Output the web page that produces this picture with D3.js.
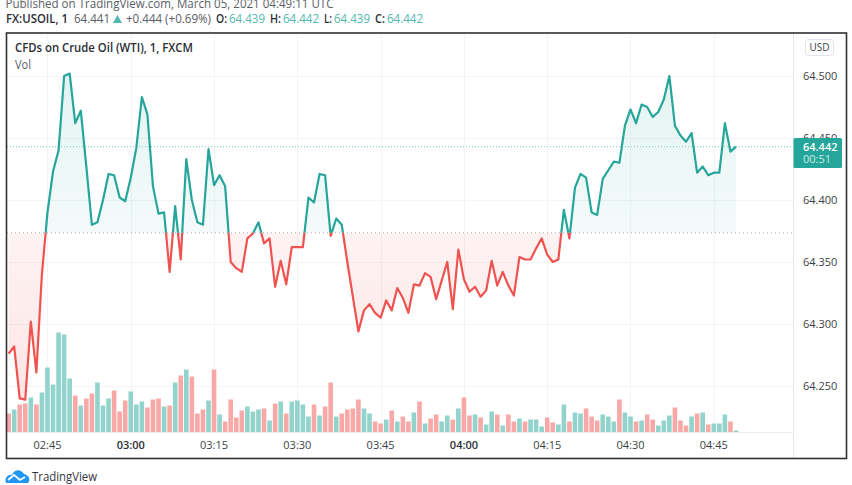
<!DOCTYPE html>
<html><head><meta charset="utf-8">
<script src="https://cdn.jsdelivr.net/npm/d3@7"></script>
<style>html,body{margin:0;padding:0;background:#fff}svg{display:block}text{font-family:"Open Sans",sans-serif}</style>
</head><body><svg id="c" width="852" height="485"></svg>
<script>
// minutes from 02:38 to 04:49 UTC
const prices = [64.276,64.282,64.240,64.239,64.302,64.261,64.340,
64.390,64.423,64.440,64.500,64.502,64.462,64.472,64.427,64.380,64.382,64.400,64.421,64.420,64.402,64.399,
64.418,64.442,64.483,64.469,64.411,64.389,64.390,64.342,64.395,64.352,64.433,64.400,64.382,64.380,64.441,
64.412,64.420,64.411,64.350,64.345,64.342,64.369,64.373,64.382,64.365,64.369,64.330,64.351,64.332,64.362,
64.362,64.362,64.402,64.398,64.421,64.420,64.371,64.385,64.380,64.350,64.322,64.294,64.311,64.316,64.309,
64.305,64.319,64.311,64.329,64.321,64.309,64.332,64.331,64.341,64.338,64.320,64.335,64.350,64.312,64.360,
64.336,64.326,64.330,64.322,64.327,64.351,64.331,64.342,64.331,64.323,64.354,64.352,64.352,64.361,64.369,
64.356,64.350,64.352,64.392,64.369,64.410,64.421,64.418,64.390,64.388,64.417,64.424,64.431,64.430,64.460,
64.473,64.462,64.477,64.475,64.467,64.471,64.481,64.500,64.460,64.452,64.447,64.454,64.422,64.427,64.420,
64.422,64.422,64.462,64.439,64.443];
const volumes = [19,23,28,29,35,28,40,
65,48,100,98,54,37,27,34,39,50,27,34,42,21,32,
41,28,31,25,33,34,26,27,50,57,63,56,19,23,32,
63,18,11,33,15,22,26,21,23,24,12,29,31,19,31,
32,28,16,28,17,26,50,16,19,23,24,33,24,19,11,
9,13,22,11,16,11,20,31,9,14,18,11,17,13,24,
35,17,18,15,8,21,18,7,18,11,14,11,13,13,6,
15,10,8,28,11,20,19,24,16,12,18,16,11,33,20,
16,11,12,18,13,7,12,17,25,12,7,16,19,20,8,
9,9,18,11,2];
// 1 = up (teal), 0 = down (red)
const volumeUp = [0,1,0,0,1,0,1,
1,1,1,1,1,0,1,0,0,1,1,1,0,0,0,
1,1,1,0,0,0,1,0,1,0,1,0,0,0,1,
0,1,0,0,0,0,1,1,1,0,1,0,1,0,1,
1,1,1,0,1,0,0,1,0,0,0,0,1,1,0,
0,1,0,1,0,0,1,0,1,0,0,1,1,0,1,
0,0,1,0,1,1,0,1,0,0,1,0,1,1,1,
0,0,1,1,0,1,1,0,0,0,1,1,1,0,1,
1,0,1,0,0,1,1,1,0,0,0,1,0,1,0,
1,1,1,0,1];
const baseValue = 64.3735, lastValue = 64.443;
const lastLabel = "64.442", countdown = "00:51";
const priceTicks = [64.25,64.3,64.35,64.4,64.45,64.5];
const timeTicks = [7,22,37,52,67,82,97,112,127];
const timeLabels = ["02:45","03:00","03:15","03:30","03:45","04:00","04:15","04:30","04:45"];
const boldTimes = ["03:00","04:00"];
const publishedText = "Published on TradingView.com, March 05, 2021 04:49:11 UTC";
const chartTitle = "CFDs on Crude Oil (WTI), 1, FXCM";

const TEAL="#26a69a", RED="#ef5350";
const L=7,R=793,T=34,B=432.5;
const svg=d3.select("#c");
const x=d3.scaleLinear().domain([0,131]).range([8.6,736]);
const y=d3.scaleLinear().domain([64.25,64.5]).range([386,76]);
const yv=d3.scaleLinear().domain([0,100]).range([B,B-100]);
const idx=d3.range(prices.length);
const defs=svg.append("defs");
function clip(id,x0,y0,x1,y1){defs.append("clipPath").attr("id",id).append("rect").attr("x",x0).attr("y",y0).attr("width",x1-x0).attr("height",y1-y0);}
clip("plot",L,T,R,B);
clip("above",L,T,R,y(baseValue));
clip("below",L,y(baseValue),R,B);
function grad(id,y1,c1,o1,y2,c2,o2){const g=defs.append("linearGradient").attr("id",id).attr("gradientUnits","userSpaceOnUse").attr("x1",0).attr("x2",0).attr("y1",y1).attr("y2",y2);
 g.append("stop").attr("offset",0).attr("stop-color",c1).attr("stop-opacity",o1);
 g.append("stop").attr("offset",1).attr("stop-color",c2).attr("stop-opacity",o2);}
grad("gUp",y(64.5),TEAL,.13,y(baseValue),TEAL,.05);
grad("gDown",y(baseValue),RED,.07,B-30,RED,.15);

// grid
const grid=svg.append("g").attr("stroke","#f3f4f6").attr("stroke-width",1);
grid.selectAll(".h").data(priceTicks).join("line").attr("x1",L).attr("x2",R).attr("y1",d=>y(d)+.5).attr("y2",d=>y(d)+.5);
grid.selectAll(".v").data(timeTicks).join("line").attr("x1",d=>Math.round(x(d))+.5).attr("x2",d=>Math.round(x(d))+.5).attr("y1",T).attr("y2",B);

// volume
svg.append("g").attr("clip-path","url(#plot)").selectAll("rect").data(idx).join("rect")
 .attr("x",i=>x(i)-2.3).attr("width",4.6).attr("y",i=>yv(volumes[i])).attr("height",i=>B-yv(volumes[i]))
 .attr("fill",i=>volumeUp[i]?"#92d3cc":"#f8a9a7");

// baseline area
const area=d3.area().x(i=>x(i)).y0(y(baseValue)).y1(i=>y(prices[i]));
const line=d3.line().x(i=>x(i)).y(i=>y(prices[i]));
const plot=svg.append("g").attr("clip-path","url(#plot)");
plot.append("path").attr("d",area(idx)).attr("fill","url(#gUp)").attr("clip-path","url(#above)");
plot.append("path").attr("d",area(idx)).attr("fill","url(#gDown)").attr("clip-path","url(#below)");
plot.append("line").attr("x1",L).attr("x2",R).attr("y1",y(baseValue)).attr("y2",y(baseValue)).attr("stroke","#a9adb5").attr("stroke-dasharray","1 3");
plot.append("line").attr("x1",L).attr("x2",R).attr("y1",y(lastValue)).attr("y2",y(lastValue)).attr("stroke","#7fcbc2").attr("stroke-dasharray","1 2");
[["above",TEAL],["below",RED]].forEach(([c,col])=>plot.append("path").attr("d",line(idx)).attr("fill","none").attr("stroke",col).attr("stroke-width",2.2).attr("stroke-linejoin","round").attr("clip-path",`url(#${c})`));

// separators and frame
svg.append("line").attr("x1",L).attr("x2",R).attr("y1",B).attr("y2",B).attr("stroke","#eceef1");
svg.append("line").attr("x1",R+.5).attr("x2",R+.5).attr("y1",T).attr("y2",458).attr("stroke","#e4e6ea");

// axes
const yAxis=d3.axisRight(y).tickValues(priceTicks).tickSize(0).tickPadding(0).tickFormat(d3.format(".3f"));
const ya=svg.append("g").attr("transform","translate(803,-0.5)").call(yAxis);
ya.select(".domain").remove();
ya.selectAll("text").attr("font-size",11).attr("fill","#3b3f46").attr("font-family",'"Open Sans",sans-serif');
const xAxis=d3.axisBottom(x).tickValues(timeTicks).tickSize(0).tickPadding(0).tickFormat((d,i)=>timeLabels[i]);
const xa=svg.append("g").attr("transform","translate(-0.5,441.5)").call(xAxis);
xa.select(".domain").remove();
xa.selectAll("text").attr("font-size",11).attr("fill",(d,i)=>boldTimes.includes(timeLabels[i])?"#2b2e35":"#3b3f46").attr("font-weight",(d,i)=>boldTimes.includes(timeLabels[i])?600:400).attr("font-family",'"Open Sans",sans-serif');

// price badge
svg.append("rect").attr("x",793.5).attr("y",138).attr("width",48.5).attr("height",30).attr("rx",1.5).attr("fill",TEAL);
svg.append("text").attr("x",803).attr("y",150.5).attr("font-size",11).attr("font-weight",600).attr("fill","#fff").text(lastLabel);
svg.append("text").attr("x",803).attr("y",163).attr("font-size",11).attr("fill","#cdebe7").text(countdown);
// USD button
svg.append("rect").attr("x",805.5).attr("y",39.5).attr("width",28).attr("height",16).attr("rx",3).attr("fill","#fff").attr("stroke","#e0e3eb");
svg.append("text").attr("x",819.5).attr("y",51).attr("text-anchor","middle").attr("font-size",10).attr("fill","#3b3f46").text("USD");

svg.append("rect").attr("x",6.5).attr("y",33).attr("width",840).attr("height",425.5).attr("fill","none").attr("stroke","#2f3135").attr("stroke-width",1.6);

// header text
function txt(s,px,py,w,size,col,weight){svg.append("text").attr("x",px).attr("y",py).attr("font-size",size).attr("fill",col).attr("font-weight",weight||400).attr("textLength",w).attr("lengthAdjust","spacingAndGlyphs").text(s);}
const G="#50b8ad", D="#2b2e35", M="#5a5e66";
txt(publishedText,5.5,8,328,12,M);
txt("FX:USOIL, 1",6,23,62,12,D,600);
txt("64.441",74,23,36,12,M);
svg.append("path").attr("d","M113 23L117.5 15L122 23Z").attr("fill",G);
txt("+0.444 (+0.69%)",126,23,85,12,M);
[["O:",216,11,"64.439",229],["H:",270,11,"64.442",283],["L:",324,8,"64.439",334],["C:",375,10,"64.442",387]].forEach(a=>{txt(a[0],a[1],23,a[2],12,D,600);txt(a[3],a[4],23,36,12,G);});
txt(chartTitle,15,52,178,12,D,600);
txt("Vol",15,68.5,16,12,M);

// logo
svg.append("path").attr("d","M6 483C4 477 9 474 12 475C14 469 21 469 24 474C29 475 31 480 28 483Z").attr("fill","#2196f3");
svg.append("path").attr("d","M8 480L14 475L20 480L25 477").attr("fill","none").attr("stroke","#fff").attr("stroke-width",1.8);
txt("TradingView",32,481,65,13,"#33363d");
</script></body></html>
